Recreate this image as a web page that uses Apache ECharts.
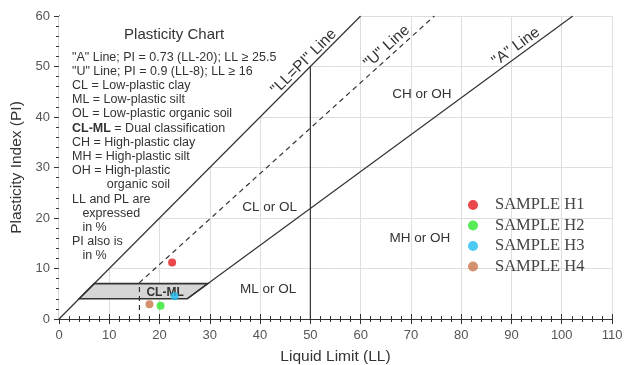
<!DOCTYPE html>
<html>
<head>
<meta charset="utf-8">
<script src="https://cdn.jsdelivr.net/npm/echarts@6/dist/echarts.min.js"></script>
<style>
  html, body { margin: 0; padding: 0; background: #fff; }
  #main { width: 635px; height: 365px; }
</style>
</head>
<body>
<div id="main"></div>
<script>
// samples: [LL, PI]
const sampleNames = ['SAMPLE H1', 'SAMPLE H2', 'SAMPLE H3', 'SAMPLE H4'];
const sampleValues = [[22.5, 11.2], [20.2, 2.6], [23.0, 4.5], [18.0, 2.9]];
const sampleColors = ['#e3191c', '#2ee62e', '#1fbdf0', '#c8744a'];

// boundary lines
const llpiLine = [[0, 0], [60, 60]];
const uLine = [[16, 0], [16, 7.2], [74.67, 60]];
const aLine = [[25.5, 4.015], [102.2, 60]];
const ll50Line = [[50, 0], [50, 50]];
const clmlZone = [[4, 4], [25.5, 4], [29.6, 7], [7, 7]];
const blankZone = [[0, 0], [60, 60], [0, 60]]; // no grid left of LL=PI line

// text labels in chart units: [LL, PI, text, rotation deg, size, bold]
const chartLabels = [
  [22.9, 56.2, 'Plasticity Chart', 0, 15, false],
  [48.7, 50.9, '"LL=PI" Line', 45, 15.5, false],
  [65.2, 53.9, '"U" Line', 42, 15.5, false],
  [90.9, 53.9, '"A" Line', 36, 15.5, false],
  [72.2, 44.4, 'CH or OH', 0, 13.5, false],
  [41.9, 22.2, 'CL or OL', 0, 13.5, false],
  [71.8, 16.0, 'MH or OH', 0, 13.5, false],
  [41.6, 5.9, 'ML or OL', 0, 13.5, false],
  [21.1, 5.3, 'CL-ML', 0, 12, true]
];

const noteLines = [
  '"A" Line; PI = 0.73 (LL-20); LL \u2265 25.5',
  '"U" Line; PI = 0.9 (LL-8); LL \u2265 16',
  'CL = Low-plastic clay',
  'ML = Low-plastic silt',
  'OL = Low-plastic organic soil',
  '{b|CL-ML} = Dual classification',
  'CH = High-plastic clay',
  'MH = High-plastic silt',
  'OH = High-plastic',
  '          organic soil',
  'LL and PL are',
  '   expressed',
  '   in %',
  'PI also is',
  '   in %'
];

const xTicks = { min: 0, max: 110, interval: 10 };
const yTicks = { min: 0, max: 60, interval: 10 };

const lineColor = '#333';
const font = 'Liberation Sans';

const chart = echarts.init(document.getElementById('main'));

function axisBase(show) {
  return {
    type: 'value',
    axisLine: { show: true, lineStyle: { color: lineColor, width: 1.2 } },
    axisTick: { show: true, inside: true, length: 5, lineStyle: { color: lineColor } },
    minorTick: { show: true, splitNumber: 5, length: 3, lineStyle: { color: lineColor } },
    axisLabel: { show: show, color: '#555', fontSize: 13, fontFamily: font },
    splitLine: { show: show, lineStyle: { color: '#dedede' } }
  };
}

const xBottom = Object.assign(axisBase(true), xTicks, {
  name: 'Liquid Limit (LL)', nameLocation: 'middle', nameGap: 30,
  nameTextStyle: { color: '#333', fontSize: 15.5, fontFamily: font },
  axisLabel: { color: '#555', fontSize: 13, fontFamily: font, margin: 10 }
});
const xTop = Object.assign(axisBase(false), xTicks, { position: 'top' });
const yLeft = Object.assign(axisBase(true), yTicks, {
  name: 'Plasticity Index (PI)', nameLocation: 'middle', nameGap: 27,
  nameTextStyle: { color: '#333', fontSize: 15.5, fontFamily: font },
  axisLabel: { color: '#555', fontSize: 13, fontFamily: font, margin: 9 }
});
const yRight = Object.assign(axisBase(false), yTicks, { position: 'right' });

function lineSeries(data, dashed) {
  return {
    type: 'line', data: data, symbol: 'none', silent: true,
    xAxisIndex: 0, yAxisIndex: 0,
    lineStyle: { color: lineColor, width: 1.2, type: dashed ? [5, 4] : 'solid' },
    z: 3
  };
}

function polygonSeries(points, style, z) {
  return {
    type: 'custom', xAxisIndex: 0, yAxisIndex: 0, silent: true, z: z,
    data: [0],
    renderItem: function (params, api) {
      return {
        type: 'polygon',
        shape: { points: points.map(p => api.coord(p)) },
        style: style
      };
    }
  };
}

const series = [
  polygonSeries(blankZone, { fill: '#fff' }, 1),
  polygonSeries(clmlZone, { fill: '#d6d6d6', stroke: lineColor, lineWidth: 1.6 }, 2),
  lineSeries(llpiLine, false),
  lineSeries(uLine, true),
  lineSeries(aLine, false),
  lineSeries(ll50Line, false),
  {
    type: 'custom', xAxisIndex: 0, yAxisIndex: 0, silent: true, z: 4,
    data: chartLabels,
    renderItem: function (params, api) {
      const d = chartLabels[params.dataIndex];
      const pt = api.coord([d[0], d[1]]);
      return {
        type: 'text', x: pt[0], y: pt[1],
        rotation: d[3] * Math.PI / 180,
        style: {
          text: d[2], fill: '#333', align: 'center', verticalAlign: 'middle',
          font: (d[5] ? 'bold ' : '') + d[4] + 'px "' + font + '"'
        }
      };
    }
  }
];

sampleNames.forEach((name, i) => {
  series.push({
    type: 'scatter', name: name, data: [sampleValues[i]],
    xAxisIndex: 0, yAxisIndex: 0,
    symbolSize: 8, itemStyle: { color: sampleColors[i] }, z: 5
  });
});

chart.setOption({
  animation: false,
  grid: { left: 59, right: 23, top: 16, bottom: 46, outerBoundsMode: 'none', containLabel: false },
  xAxis: [xBottom, xTop],
  yAxis: [yLeft, yRight],
  legend: {
    data: sampleNames, orient: 'vertical', left: 463, top: 190,
    icon: 'circle', itemWidth: 10, itemHeight: 10, itemGap: 0.5,
    textStyle: { color: '#444', fontSize: 16.5, lineHeight: 20, fontFamily: 'Liberation Serif', padding: [0, 0, 0, 12] }
  },
  graphic: [{
    type: 'text', left: 72, top: 50, z: 10,
    style: {
      text: noteLines.join('\n'), fill: '#333', lineHeight: 14.2,
      font: '12.5px "' + font + '"',
      rich: { b: { fontWeight: 'bold', fontSize: 12.5, fontFamily: font, lineHeight: 14.2 } }
    }
  }],
  series: series
});
</script>
</body>
</html>
